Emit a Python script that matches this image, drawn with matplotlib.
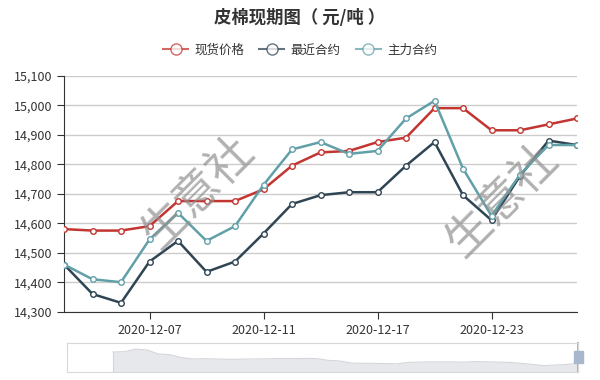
import numpy as np
import matplotlib.pyplot as plt
from matplotlib.patches import Rectangle

plt.rcParams['font.family'] = ['Noto Sans CJK SC', 'DejaVu Sans']

# trading days shown in the window
dates = ['2020-12-02', '2020-12-03', '2020-12-04', '2020-12-07', '2020-12-08',
         '2020-12-09', '2020-12-10', '2020-12-11', '2020-12-14', '2020-12-15',
         '2020-12-16', '2020-12-17', '2020-12-18', '2020-12-21', '2020-12-22',
         '2020-12-23', '2020-12-24', '2020-12-25', '2020-12-28']

spot = [14580, 14575, 14575, 14590, 14675, 14675, 14675, 14715, 14795, 14840,
        14845, 14875, 14890, 14990, 14990, 14915, 14915, 14935, 14955]
nearest = [14460, 14360, 14330, 14470, 14540, 14435, 14470, 14565, 14665, 14695,
           14705, 14705, 14795, 14875, 14695, 14610, 14760, 14880, 14865]
main = [14460, 14410, 14400, 14545, 14635, 14540, 14590, 14730, 14850, 14875,
        14835, 14845, 14955, 15015, 14785, 14625, 14765, 14865, 14865]

series_names = ['现货价格', '最近合约', '主力合约']
colors = ['#c23531', '#2f4554', '#61a0a8']

tick_dates = ['2020-12-07', '2020-12-11', '2020-12-17', '2020-12-23']
y_ticks = [14300, 14400, 14500, 14600, 14700, 14800, 14900, 15000, 15100]

# overview line in the zoom slider (relative height, longer history)
overview = [0.69, 0.70, 0.79, 0.76, 0.62, 0.60, 0.50, 0.45, 0.46, 0.45, 0.44,
            0.44, 0.45, 0.45, 0.46, 0.46, 0.46, 0.47, 0.46, 0.40, 0.38, 0.31,
            0.30, 0.30, 0.29, 0.28, 0.33, 0.34, 0.35, 0.35, 0.35, 0.34, 0.36,
            0.35, 0.34, 0.33, 0.30, 0.26, 0.22, 0.24, 0.26, 0.30]

fig = plt.figure(figsize=(6, 3.8), dpi=100)
ax = fig.add_axes([64 / 600, 1 - 311.7 / 380, 513 / 600, 236 / 380])

x = np.arange(len(dates))
for vals, name, c in zip([spot, nearest, main], series_names, colors):
    ax.plot(x, vals, color=c, lw=1.8, marker='o', ms=4, mfc='white',
            mec=c, mew=1.0, label=name, zorder=3)

ax.set_xlim(0, len(dates) - 1)
ax.set_ylim(14300, 15100)
ax.set_yticks(y_ticks)
ax.set_yticklabels([f'{v:,}' for v in y_ticks])
ax.set_xticks([dates.index(d) for d in tick_dates])
ax.set_xticklabels(tick_dates)
ax.grid(axis='y', color='#cccccc', lw=1)
ax.set_axisbelow(True)
for s in ['top', 'right']:
    ax.spines[s].set_visible(False)
for s in ['left', 'bottom']:
    ax.spines[s].set_color('#333333')
ax.tick_params(colors='#333333', labelsize=9, length=5)

# watermarks
for wx, wy in [(198, 192), (502, 200)]:
    fig.text(wx / 600, 1 - wy / 380, '生意社', fontsize=33, color='#909090',
             alpha=0.7, rotation=45, ha='center', va='center', zorder=5)

fig.text(0.5, 1 - 18 / 380, '皮棉现期图（ 元/吨 ）', ha='center', va='center',
         fontsize=12.5, fontweight='bold', color='#333333')
leg = fig.legend(loc='center', bbox_to_anchor=(0.5, 1 - 50 / 380), ncol=3,
                 frameon=False, fontsize=9, handlelength=2.0, markerscale=2,
                 columnspacing=1.2, handletextpad=0.5)
for t in leg.get_texts():
    t.set_color('#333333')
for h in leg.legend_handles:
    h.set_alpha(0.75)
    h.set_linewidth(1.5)

# data zoom slider
sx = fig.add_axes([67 / 600, 1 - 372 / 380, 511 / 600, 29 / 380])
sx.set_xlim(0, 1)
sx.set_ylim(0, 1)
ox = np.linspace((113 - 67) / 511, 1, len(overview))
sx.fill_between(ox, 0, overview, color='#e6e8eb', lw=0)
sx.plot(ox, overview, color='#d3d6da', lw=0.8)
sx.plot([ox[0], ox[0]], [0, overview[0]], color='#d3d6da', lw=0.8)
for s in sx.spines.values():
    s.set_color('#d8d8d8')
sx.set_xticks([])
sx.set_yticks([])
sx.add_patch(Rectangle((0.993, 0.3), 0.016, 0.42, color='#a7b7cc',
                       clip_on=False, zorder=4))
sx.plot([1, 1], [0, 1], color='#a7b7cc', lw=1.5, clip_on=False)

fig.savefig('out.png', dpi=100)
